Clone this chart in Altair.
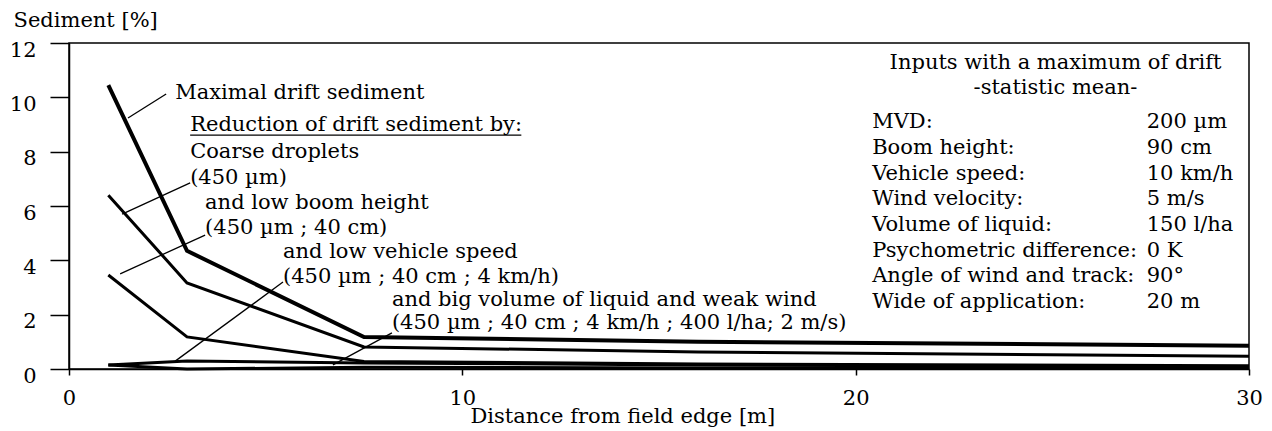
import altair as alt
import pandas as pd

FONT = "DejaVu Serif"
FS = 21

# ---- curve data (distance in m, sediment in %) ----
distance = [1, 3, 7.5, 16, 30]
max_drift = [10.45, 4.35, 1.18, 1.00, 0.86]
coarse = [6.40, 3.17, 0.81, 0.63, 0.47]
low_boom = [3.46, 1.18, 0.28, 0.18, 0.12]
low_speed = [0.15, 0.29, 0.22, 0.15, 0.08]
big_volume = [0.15, 0.00, 0.06, 0.04, 0.03]

series_names = ["Maximal drift", "Coarse droplets", "Low boom height",
                "Low vehicle speed", "Big volume and weak wind"]
series_values = [max_drift, coarse, low_boom, low_speed, big_volume]
series_widths = [4, 3, 3, 3, 3]

# ---- annotation texts (left block) ----
ann_text = ["Maximal drift  sediment", "Reduction of drift sediment by:",
            "Coarse droplets", "(450 µm)", "and low boom height",
            "(450 µm ; 40 cm)", "and low vehicle speed",
            "(450 µm ; 40 cm ; 4 km/h)",
            "and big volume of liquid and weak wind",
            "(450 µm ; 40 cm ; 4 km/h ; 400 l/ha; 2 m/s)"]
ann_x = [2.70, 3.08, 3.08, 3.08, 3.46, 3.46, 5.44, 5.44, 8.21, 8.21]
ann_y = [10.16, 8.98, 7.99, 7.03, 6.11, 5.19, 4.31, 3.39, 2.54, 1.69]

# leader lines (data units) + underline
lead_x = [1.50, 1.35, 1.30, 2.70, 6.71, 3.08]
lead_y = [9.24, 5.70, 3.50, 0.29, 0.15, 8.61]
lead_x2 = [2.47, 3.08, 3.46, 5.44, 8.21, 11.50]
lead_y2 = [10.12, 6.85, 4.93, 3.20, 1.33, 8.61]

# ---- right block ----
box_title = ["Inputs with a maximum of drift", "-statistic mean-"]
box_title_y = [11.26, 10.34]
box_title_x = 25.08
param_labels = ["MVD:", "Boom height:", "Vehicle speed:", "Wind velocity:",
                "Volume of liquid:", "Psychometric difference:",
                "Angle of wind and track:", "Wide of application:"]
param_values = ["200 µm", "90 cm", "10 km/h", "5 m/s", "150 l/ha", "0 K",
                "90°", "20 m"]
param_y = [9.09, 8.15, 7.18, 6.26, 5.30, 4.36, 3.42, 2.48]
param_label_x = 20.42
param_value_x = 27.40

x_ticks = [0, 10, 20, 30]
y_ticks = [0, 2, 4, 6, 8, 10, 12]

# ---- build tables ----
rows = []
for name, vals, w in zip(series_names, series_values, series_widths):
    for d, v in zip(distance, vals):
        rows.append({"series": name, "distance": d, "sediment": v, "w": w})
lines_df = pd.DataFrame(rows)

ann_df = pd.DataFrame({"x": ann_x, "y": ann_y, "text": ann_text})
lead_df = pd.DataFrame({"x": lead_x, "y": lead_y, "x2": lead_x2, "y2": lead_y2})
title_df = pd.DataFrame({"x": [box_title_x] * 2, "y": box_title_y, "text": box_title})
plab_df = pd.DataFrame({"x": [param_label_x] * len(param_labels), "y": param_y,
                        "text": param_labels})
pval_df = pd.DataFrame({"x": [param_value_x] * len(param_values), "y": param_y,
                        "text": param_values})

xscale = alt.Scale(domain=[0, 30], nice=False, zero=False)
yscale = alt.Scale(domain=[0, 12], nice=False, zero=False)
XTITLE = "Distance from field edge [m]"
YTITLE = "Sediment [%]"
x_axis = alt.Axis(values=x_ticks, titleX=401, titleY=47, titleAlign="left",
                  titleBaseline="middle", tickSize=6, labelPadding=12,
                  labelFlush=False, labelFontSize=FS, labelFont=FONT,
                  titleFont=FONT, titleFontSize=FS, titleFontWeight="normal")
y_axis = alt.Axis(values=y_ticks, titleAngle=0, titleX=-56, titleY=-23,
                  titleAlign="left", titleBaseline="middle", tickSize=19,
                  labelPadding=14, labelOffset=7, labelFlush=False,
                  labelFontSize=FS, labelFont=FONT, titleFont=FONT,
                  titleFontSize=FS, titleFontWeight="normal")


def X(field):
    return alt.X(field, scale=xscale, axis=x_axis, title=XTITLE)


def Y(field):
    return alt.Y(field, scale=yscale, axis=y_axis, title=YTITLE)


lines = alt.Chart(lines_df).mark_line(color="black", strokeJoin="miter").encode(
    x=X("distance:Q"), y=Y("sediment:Q"),
    detail="series:N",
    strokeWidth=alt.StrokeWidth("w:Q", scale=None),
)

leaders = alt.Chart(lead_df).mark_rule(color="black", strokeWidth=1.3).encode(
    x=X("x:Q"), y=Y("y:Q"), x2="x2:Q", y2="y2:Q",
)

text_kw = dict(font=FONT, fontSize=FS, color="black", baseline="middle")
ann = alt.Chart(ann_df).mark_text(align="left", **text_kw).encode(
    x=X("x:Q"), y=Y("y:Q"), text="text:N")
titles = alt.Chart(title_df).mark_text(align="center", **text_kw).encode(
    x=X("x:Q"), y=Y("y:Q"), text="text:N")
plabs = alt.Chart(plab_df).mark_text(align="left", **text_kw).encode(
    x=X("x:Q"), y=Y("y:Q"), text="text:N")
pvals = alt.Chart(pval_df).mark_text(align="left", **text_kw).encode(
    x=X("x:Q"), y=Y("y:Q"), text="text:N")

chart = alt.layer(lines, leaders, ann, titles, plabs, pvals).properties(
    width=1180, height=326,
    autosize=alt.AutoSizeParams(type="none"),
    padding={"left": 61, "top": 35, "right": 15, "bottom": 61},
    background="white",
).configure_view(stroke="black", strokeWidth=1.5).configure_axis(
    grid=False, domainColor="black", domainWidth=1.5, tickColor="black",
    tickWidth=1.5, labelColor="black", titleColor="black",
)

chart.save("out.html", embed_options={"renderer": "svg", "actions": False})
